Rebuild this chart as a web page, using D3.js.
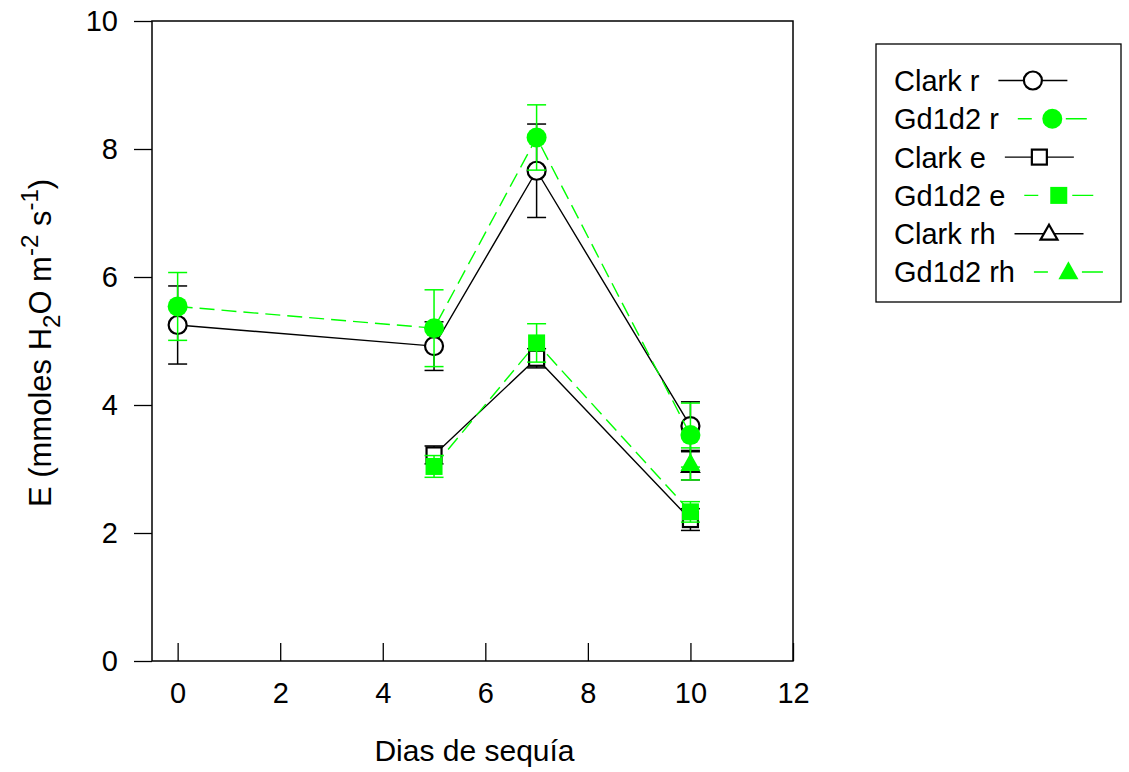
<!DOCTYPE html>
<html>
<head>
<meta charset="utf-8">
<script src="https://cdn.jsdelivr.net/npm/d3@7"></script>
<style>
  html, body { margin: 0; padding: 0; background: #fff; }
  text { font-family: "Liberation Sans", Arial, sans-serif; fill: #000; }
</style>
</head>
<body>
<svg id="chart" width="1129" height="772"></svg>
<script>
// Transpiration over drought days, two genotypes, three treatments
const days   = [0, 5, 7, 10];
const daysE  = [5, 7, 10];
const daysRh = [10];

const clarkR    = [5.25, 4.92, 7.66, 3.67];
const clarkRErr = [0.61, 0.38, 0.73, 0.38];
const gdR       = [5.54, 5.20, 8.18, 3.53];
const gdRErr    = [0.53, 0.60, 0.51, 0.50];

const clarkE    = [3.22, 4.73, 2.21];
const clarkEErr = [0.14, 0.15, 0.17];
const gdE       = [3.04, 4.97, 2.33];
const gdEErr    = [0.17, 0.30, 0.16];

const clarkRh    = [3.05];
const clarkRhErr = [0.22];
const gdRh       = [3.08];
const gdRhErr    = [0.25];

const xTicks = [0, 2, 4, 6, 8, 10, 12];
const yTicks = [0, 2, 4, 6, 8, 10];
const seriesNames = ["Clark r", "Gd1d2 r", "Clark e", "Gd1d2 e", "Clark rh", "Gd1d2 rh"];

const GREEN = "#00ff00";
const series = [
  { name: seriesNames[0], x: days,   y: clarkR,  err: clarkRErr,  color: "#000", dash: null,   shape: "circle",   filled: false },
  { name: seriesNames[1], x: days,   y: gdR,     err: gdRErr,     color: GREEN,  dash: "15,7", shape: "circle",   filled: true  },
  { name: seriesNames[2], x: daysE,  y: clarkE,  err: clarkEErr,  color: "#000", dash: null,   shape: "square",   filled: false },
  { name: seriesNames[3], x: daysE,  y: gdE,     err: gdEErr,     color: GREEN,  dash: "15,7", shape: "square",   filled: true  },
  { name: seriesNames[4], x: daysRh, y: clarkRh, err: clarkRhErr, color: "#000", dash: null,   shape: "triangle", filled: false },
  { name: seriesNames[5], x: daysRh, y: gdRh,    err: gdRhErr,    color: GREEN,  dash: "15,7", shape: "triangle", filled: true  }
];

const svg = d3.select("#chart");
const L = 152, R = 793, T = 21, B = 661;
const x = d3.scaleLinear().domain([-0.5, 12]).range([L, R]);
const y = d3.scaleLinear().domain([0, 10]).range([B, T]);
const FS = 29;

// frame
svg.append("rect").attr("x", L).attr("y", T).attr("width", R - L).attr("height", B - T)
  .attr("fill", "none").attr("stroke", "#000").attr("stroke-width", 1.5);

// x axis: inward ticks
const xAxis = svg.append("g").attr("transform", `translate(0,${B})`)
  .call(d3.axisBottom(x).tickValues(xTicks).tickSizeInner(-18).tickSizeOuter(0).tickPadding(22));
xAxis.select(".domain").remove();
xAxis.selectAll("line").attr("stroke", "#000").attr("stroke-width", 1.3);
xAxis.selectAll("text").attr("font-size", FS).attr("font-family", "Liberation Sans, Arial, sans-serif")
  .attr("dy", "0.35em").attr("y", 32);

// y axis: outward ticks
const yAxis = svg.append("g").attr("transform", `translate(${L},0)`)
  .call(d3.axisLeft(y).tickValues(yTicks).tickSizeInner(18).tickSizeOuter(0).tickPadding(16));
yAxis.select(".domain").remove();
yAxis.selectAll("line").attr("stroke", "#000").attr("stroke-width", 1.3);
yAxis.selectAll("text").attr("font-size", FS).attr("font-family", "Liberation Sans, Arial, sans-serif");

// axis titles
svg.append("text").attr("x", (L + R) / 2 + 2).attr("y", 750).attr("dy", "0.35em")
  .attr("text-anchor", "middle").attr("font-size", 30).text("Dias de sequía");

const yt = svg.append("text").attr("transform", `translate(51,${(T + B) / 2 + 2}) rotate(-90)`)
  .attr("text-anchor", "middle").attr("font-size", 31);
yt.append("tspan").text("E (mmoles H");
yt.append("tspan").attr("font-size", 24).attr("dy", 9).text("2");
yt.append("tspan").attr("dy", -9).text("O m");
yt.append("tspan").attr("font-size", 24).attr("dy", -13).text("-2");
yt.append("tspan").attr("dy", 13).text(" s");
yt.append("tspan").attr("font-size", 24).attr("dy", -13).text("-1");
yt.append("tspan").attr("dy", 13).text(")");

// marker drawing
function drawMarker(g, shape, filled, color, cx, cy) {
  const fill = filled ? color : "#fff";
  const stroke = filled ? color : "#000";
  if (shape === "circle") {
    g.append("circle").attr("cx", cx).attr("cy", cy).attr("r", filled ? 10 : 9)
      .attr("fill", fill).attr("stroke", stroke).attr("stroke-width", filled ? 0 : 2.2);
  } else if (shape === "square") {
    const s = filled ? 17 : 15;
    g.append("rect").attr("x", cx - s / 2).attr("y", cy - s / 2).attr("width", s).attr("height", s)
      .attr("fill", fill).attr("stroke", stroke).attr("stroke-width", filled ? 0 : 2.2);
  } else {
    const h = filled ? 18 : 15, w = filled ? 20 : 17;
    const pts = [[cx, cy - h * 0.6], [cx + w / 2, cy + h * 0.4], [cx - w / 2, cy + h * 0.4]];
    g.append("path").attr("d", "M" + pts.map(p => p.join(",")).join("L") + "Z")
      .attr("fill", fill).attr("stroke", stroke).attr("stroke-width", filled ? 0 : 2.2)
      .attr("stroke-linejoin", "miter");
  }
}

const plot = svg.append("g");
const line = d3.line().x(d => x(d[0])).y(d => y(d[1]));
const CAP = 9.5;

series.forEach(s => {
  const g = plot.append("g");
  const pts = s.x.map((d, i) => [d, s.y[i], s.err[i]]);
  if (pts.length > 1) {
    g.append("path").attr("d", line(pts)).attr("fill", "none")
      .attr("stroke", s.color).attr("stroke-width", 1.4)
      .attr("stroke-dasharray", s.dash);
  }
  pts.forEach(p => {
    const cx = x(p[0]), y0 = y(p[1] - p[2]), y1 = y(p[1] + p[2]);
    g.append("line").attr("x1", cx).attr("x2", cx).attr("y1", y0).attr("y2", y1)
      .attr("stroke", s.color).attr("stroke-width", 1.5);
    [y0, y1].forEach(yy => g.append("line").attr("x1", cx - CAP).attr("x2", cx + CAP)
      .attr("y1", yy).attr("y2", yy).attr("stroke", s.color).attr("stroke-width", 1.5));
  });
  pts.forEach(p => drawMarker(g, s.shape, s.filled, s.color, x(p[0]), y(p[1])));
});

// legend: sample line with the marker centred on it
const lg = svg.append("g");
lg.append("rect").attr("x", 876).attr("y", 44).attr("width", 245).attr("height", 258)
  .attr("fill", "#fff").attr("stroke", "#000").attr("stroke-width", 1.3);
series.forEach((s, i) => {
  const cy = 80.5 + i * 38.3;
  const t = lg.append("text").attr("x", 894).attr("y", cy).attr("dy", "0.36em")
    .attr("font-size", FS).text(s.name);
  const x0 = 894 + t.node().getComputedTextLength() + 19;
  lg.append("line").attr("x1", x0).attr("x2", x0 + 69).attr("y1", cy).attr("y2", cy)
    .attr("stroke", s.color).attr("stroke-width", 1.4)
    .attr("stroke-dasharray", s.dash ? "14,34,21,40" : null);
  drawMarker(lg, s.shape, s.filled, s.color, x0 + 34.5, cy);
});
</script>
</body>
</html>
